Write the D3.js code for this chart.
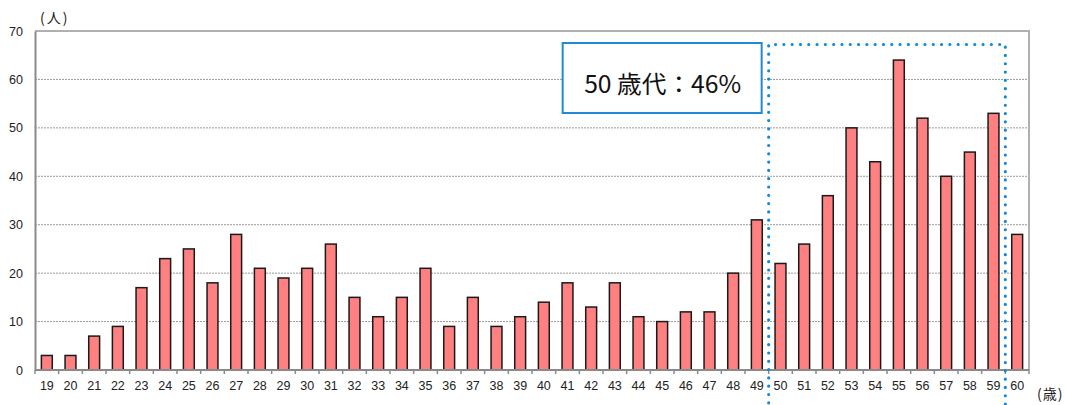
<!DOCTYPE html>
<html>
<head>
<meta charset="utf-8">
<script src="https://cdn.jsdelivr.net/npm/d3@7"></script>
<style>
  body { margin: 0; background: #fff; }
  svg { display: block; font-family: Arial, "Liberation Sans", sans-serif; }
</style>
</head>
<body>
<svg id="chart"></svg>
<script>
// ages 19..60
const ages = ['19','20','21','22','23','24','25','26','27','28','29','30','31','32','33','34','35','36','37','38','39','40',
  '41','42','43','44','45','46','47','48','49','50','51','52','53','54','55','56','57','58','59','60'];
const counts = [3, 3, 7, 9, 17, 23, 25, 18, 28, 21, 19, 21, 26, 15, 11, 15, 21, 9, 15, 9, 11, 14,
  18, 13, 18, 11, 10, 12, 12, 20, 31, 22, 26, 36, 50, 43, 64, 52, 40, 45, 53, 28];
const yTicks = [0, 10, 20, 30, 40, 50, 60, 70];
const noteText = '50 歳代：46%';

const svgWidth = 1065;
const svgHeight = 405;
const margin = { top: 31, right: 36, bottom: 35, left: 35 };
const width = svgWidth - margin.left - margin.right;
const height = svgHeight - margin.top - margin.bottom;

const root = d3.select('#chart').attr('width', svgWidth).attr('height', svgHeight);
const svg = root.append('g').attr('transform', `translate(${margin.left},${margin.top})`);

const x = d3.scaleBand().domain(ages).range([0, width]).paddingInner(0.54).paddingOuter(0.27);
const y = d3.scaleLinear().domain([0, 70]).range([height, 0]);
const step = x.step();
const bandStart = (a) => x(a) - x.paddingInner() * step / 2;

// gridlines
svg.append('g')
  .selectAll('line')
  .data(yTicks.filter((d) => d > 0 && d < 70))
  .enter()
  .append('line')
  .attr('x1', 0).attr('x2', width)
  .attr('y1', (d) => y(d)).attr('y2', (d) => y(d))
  .attr('stroke', '#9a9a9a')
  .attr('stroke-width', 1)
  .attr('stroke-dasharray', '2,1');

// frame top + right
svg.append('path')
  .attr('d', `M0,${y(70)}H${width}V${height}`)
  .attr('fill', 'none')
  .attr('stroke', '#b0b0b0')
  .attr('stroke-width', 2);

// bars
svg.selectAll('.bar')
  .data(counts)
  .enter()
  .append('rect')
  .attr('class', 'bar')
  .attr('x', (d, i) => x(ages[i]))
  .attr('y', (d) => y(d))
  .attr('width', x.bandwidth())
  .attr('height', (d) => height - y(d))
  .attr('fill', '#ff8080')
  .attr('stroke', '#1a1a1a')
  .attr('stroke-width', 1.5);

// y axis
const yAxis = svg.append('g')
  .call(d3.axisLeft(y).tickValues(yTicks).tickSize(0).tickPadding(12));
yAxis.select('.domain').attr('stroke', '#8a8a8a').attr('stroke-width', 2);
yAxis.selectAll('text').attr('font-size', 12.5).attr('fill', '#222');

// x axis
const xAxis = svg.append('g').attr('transform', `translate(0,${height})`);
xAxis.append('line')
  .attr('x1', 0).attr('x2', width)
  .attr('stroke', '#8a8a8a').attr('stroke-width', 2);
xAxis.selectAll('.tick')
  .data(ages.concat(['end']))
  .enter()
  .append('line')
  .attr('x1', (d, i) => i * step).attr('x2', (d, i) => i * step)
  .attr('y1', 0).attr('y2', 4)
  .attr('stroke', '#8a8a8a').attr('stroke-width', 1.5);
xAxis.selectAll('.lbl')
  .data(ages)
  .enter()
  .append('text')
  .attr('x', (d) => x(d) + x.bandwidth() / 2)
  .attr('y', 20)
  .attr('text-anchor', 'middle')
  .attr('font-size', 12.5)
  .attr('fill', '#222')
  .text((d) => d);

// unit labels
root.append('text')
  .attr('x', 40).attr('y', 23)
  .attr('font-size', 14)
  .attr('font-family', '"Noto Sans CJK JP", sans-serif')
  .attr('fill', '#222')
  .attr('letter-spacing', 2)
  .text('(人)');
root.append('text')
  .attr('x', 1037).attr('y', 399)
  .attr('font-size', 14)
  .attr('font-family', '"Noto Sans CJK JP", sans-serif')
  .attr('fill', '#222')
  .attr('letter-spacing', 1)
  .text('(歳)');

// dotted highlight around 50s
const hx0 = bandStart('50');
const hx1 = bandStart('60');
const hy0 = 13.5;
svg.append('path')
  .attr('d', `M${hx0},${svgHeight}V${hy0}H${hx1}V${svgHeight}`)
  .attr('fill', 'none')
  .attr('stroke', '#1188dd')
  .attr('stroke-width', 3.2)
  .attr('stroke-linecap', 'round')
  .attr('stroke-dasharray', '0,8.3');

// note box
const note = svg.append('g');
note.append('rect')
  .attr('x', hx0 - 206).attr('y', 12)
  .attr('width', 199).attr('height', 70)
  .attr('fill', '#fff')
  .attr('stroke', '#1f8ad6')
  .attr('stroke-width', 2);
note.append('text')
  .attr('x', hx0 - 106).attr('y', 62)
  .attr('text-anchor', 'middle')
  .attr('font-size', 24)
  .attr('font-family', '"Noto Sans CJK JP", sans-serif')
  .attr('fill', '#111')
  .attr('textLength', 157)
  .attr('lengthAdjust', 'spacingAndGlyphs')
  .text(noteText);
</script>
</body>
</html>
